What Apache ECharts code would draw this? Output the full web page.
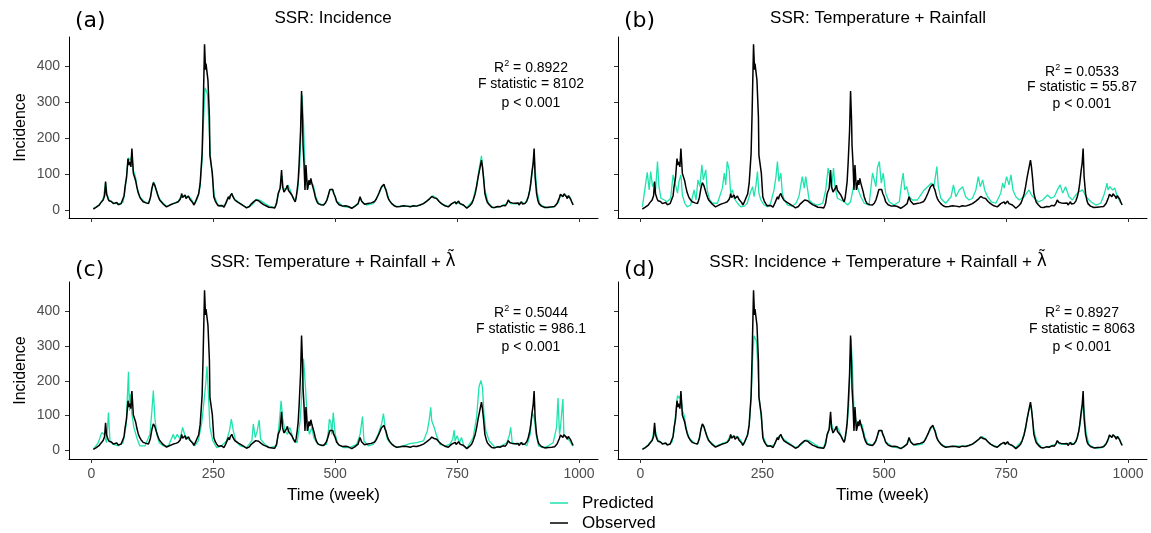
<!DOCTYPE html>
<html>
<head>
<meta charset="utf-8">
<script src="https://cdn.jsdelivr.net/npm/echarts@6/dist/echarts.min.js"></script>
<style>
  html, body { margin: 0; padding: 0; background: #fff; }
  #main { width: 1151px; height: 533px; }
</style>
</head>
<body>
<div id="main"></div>
<script>
// x ticks / y ticks
var weekTicks = [0, 250, 500, 750, 1000];
var incTicks = [0, 100, 200, 300, 400];

// observed incidence [week, value] - same in all panels
var observed = [[4,3],[7,5],[10,8],[13,12],[16,14],[19,20],[22,24],[24,28],[27,40],[29,79],[31,45],[34,32],[36,26],[38,22],[41,24],[45,18],[48,22],[52,21],[55,15],[58,16],[61,18],[65,20],[67,40],[69,65],[72,90],[75,143],[77,125],[79,134],[81,120],[83,171],[86,102],[89,106],[91,80],[93,65],[96,48],[99,37],[102,30],[106,23],[109,26],[112,20],[115,22],[117,18],[119,26],[121,35],[124,60],[127,76],[130,69],[133,55],[136,42],[138,34],[140,28],[143,24],[147,17],[150,12],[154,9],[157,13],[161,14],[164,11],[168,18],[171,15],[173,20],[176,18],[178,23],[180,28],[182,30],[184,38],[185,46],[187,35],[188,38],[190,37],[192,42],[194,32],[197,36],[199,39],[202,30],[205,28],[208,20],[210,14],[213,22],[216,32],[220,45],[223,74],[227,157],[229,268],[232,461],[234,390],[235,407],[237,412],[239,361],[242,259],[243,153],[245,157],[248,102],[251,37],[254,25],[257,18],[260,12],[264,9],[267,13],[270,12],[272,8],[274,14],[276,20],[278,25],[281,37],[283,30],[285,40],[288,46],[290,38],[291,35],[294,28],[297,30],[300,22],[303,24],[305,18],[308,15],[312,12],[315,8],[318,6],[321,11],[324,10],[327,16],[329,14],[332,22],[334,20],[337,28],[339,32],[341,24],[343,26],[346,28],[348,20],[351,22],[353,15],[356,18],[358,12],[361,12],[364,8],[366,9],[368,5],[371,7],[373,10],[376,6],[378,12],[380,20],[383,46],[387,60],[390,111],[392,65],[395,50],[397,46],[400,62],[402,69],[404,55],[406,60],[408,50],[411,42],[413,36],[415,30],[418,23],[420,35],[422,56],[424,80],[426,130],[429,222],[431,331],[433,250],[434,180],[436,130],[438,56],[440,125],[443,56],[445,70],[446,83],[448,70],[450,88],[452,75],[454,74],[457,50],[459,37],[462,25],[465,18],[467,22],[470,15],[473,12],[476,14],[478,18],[480,20],[483,28],[486,42],[489,57],[491,52],[493,60],[495,57],[497,46],[500,37],[503,23],[506,20],[508,15],[510,17],[512,12],[515,11],[517,9],[521,12],[524,8],[527,10],[530,6],[534,5],[537,8],[540,10],[543,14],[547,18],[549,28],[551,37],[554,25],[556,20],[558,22],[560,16],[564,14],[567,18],[570,15],[574,20],[578,18],[581,24],[584,30],[588,42],[590,48],[592,55],[595,65],[597,60],[600,72],[602,62],[604,56],[607,40],[609,32],[612,25],[614,21],[616,18],[619,14],[621,12],[624,13],[626,9],[630,7],[633,10],[636,12],[640,12],[643,9],[647,11],[650,13],[654,9],[657,8],[660,12],[663,13],[667,11],[670,10],[674,14],[677,15],[681,18],[684,20],[688,25],[691,28],[694,32],[698,38],[701,40],[703,34],[705,36],[708,32],[710,27],[713,24],[715,20],[718,18],[722,15],[725,12],[728,10],[732,9],[734,12],[736,14],[739,18],[741,22],[743,15],[746,23],[748,17],[750,20],[753,25],[756,18],[758,21],[760,20],[763,14],[765,12],[767,9],[770,5],[773,8],[776,12],[780,18],[783,28],[787,45],[790,65],[793,90],[796,111],[798,125],[800,139],[802,120],[804,93],[807,46],[810,30],[812,22],[814,18],[816,15],[819,10],[821,8],[824,5],[827,7],[830,8],[833,10],[835,6],[838,9],[841,11],[844,13],[846,15],[849,12],[852,18],[855,28],[858,22],[860,18],[863,20],[866,15],[869,19],[872,17],[875,20],[877,14],[880,18],[882,23],[884,17],[886,20],[889,18],[891,22],[893,25],[896,37],[899,55],[901,74],[904,111],[906,130],[908,171],[910,93],[913,46],[916,25],[918,18],[920,14],[923,11],[927,8],[930,7],[934,5],[937,8],[940,6],[944,9],[947,7],[950,10],[952,12],[955,18],[958,23],[960,35],[962,44],[965,40],[967,37],[969,45],[971,46],[974,38],[976,32],[978,40],[980,42],[983,30],[985,23],[988,14]];

// (a) SSR: Incidence
var predA = [[4,4],[10,9],[16,15],[24,30],[29,75],[32,45],[36,28],[45,19],[58,17],[65,22],[69,55],[73,110],[76,145],[79,138],[83,150],[86,110],[90,95],[94,60],[100,35],[110,22],[117,18],[122,40],[125,65],[128,78],[131,65],[136,45],[141,28],[154,10],[168,19],[178,24],[185,42],[190,38],[199,38],[205,30],[211,15],[217,30],[223,65],[227,140],[230,250],[233,340],[236,330],[238,320],[241,240],[244,150],[248,95],[252,40],[258,18],[264,10],[274,15],[281,35],[288,45],[294,30],[305,19],[318,7],[329,14],[339,30],[346,27],[356,18],[366,10],[376,7],[383,40],[388,70],[391,95],[394,60],[400,58],[403,70],[407,58],[412,40],[418,25],[423,55],[427,120],[430,220],[432,320],[435,240],[438,120],[441,90],[444,60],[447,80],[451,85],[455,70],[460,38],[466,19],[476,14],[483,27],[489,55],[494,58],[498,45],[503,25],[517,10],[534,6],[547,18],[551,33],[556,21],[564,14],[578,18],[588,40],[595,62],[600,70],[605,55],[610,30],[616,18],[626,10],[647,11],[667,11],[681,18],[694,32],[701,40],[708,32],[718,18],[732,10],[739,17],[746,22],[756,18],[763,13],[770,7],[783,28],[790,70],[796,120],[800,151],[803,110],[807,55],[814,20],[824,6],[841,11],[852,18],[855,27],[860,18],[872,17],[882,22],[889,18],[896,35],[901,70],[905,115],[908,155],[911,100],[914,50],[920,15],[934,6],[947,8],[958,22],[962,42],[967,38],[971,45],[976,33],[980,40],[985,24],[988,15]];

// (b) SSR: Temperature + Rainfall
var predB = [[4,9],[14,105],[18,56],[21,107],[25,65],[28,75],[31,56],[35,135],[38,65],[42,33],[49,28],[55,23],[62,33],[67,98],[71,75],[76,47],[79,79],[83,98],[86,42],[91,19],[96,9],[103,14],[110,56],[114,28],[118,84],[122,65],[126,126],[129,84],[134,112],[137,56],[142,28],[148,19],[158,19],[168,61],[172,103],[175,70],[178,135],[182,112],[185,47],[189,56],[192,33],[199,19],[206,9],[213,11],[219,19],[226,51],[230,65],[233,37],[237,70],[240,107],[243,47],[247,28],[254,14],[261,9],[267,19],[274,56],[278,93],[281,135],[284,79],[288,103],[291,47],[295,28],[302,14],[312,11],[319,19],[325,37],[329,70],[332,93],[336,61],[339,93],[343,56],[346,28],[353,19],[363,14],[374,19],[380,56],[385,117],[388,121],[392,61],[396,117],[399,65],[404,33],[411,28],[418,23],[425,14],[431,23],[437,65],[442,75],[447,56],[452,37],[459,19],[469,14],[476,103],[479,107],[483,65],[486,117],[490,135],[494,75],[498,103],[500,107],[503,47],[510,23],[520,14],[531,23],[536,79],[539,103],[542,56],[546,65],[551,37],[558,28],[568,28],[575,42],[582,56],[589,65],[597,75],[602,65],[608,121],[611,65],[616,33],[626,19],[637,37],[642,70],[647,37],[654,56],[661,65],[667,37],[674,28],[681,33],[688,56],[693,93],[697,65],[702,84],[706,56],[712,37],[720,23],[729,19],[739,47],[743,75],[746,61],[751,93],[756,70],[760,98],[764,56],[770,37],[777,28],[787,37],[792,47],[797,56],[802,42],[808,33],[816,23],[825,28],[835,42],[842,33],[849,37],[855,56],[861,70],[866,47],[872,65],[879,37],[886,28],[893,42],[900,51],[907,56],[914,37],[924,23],[934,14],[944,19],[952,47],[957,75],[959,56],[963,65],[968,56],[973,61],[977,42],[982,28],[985,19]];

// (c) SSR: Temperature + Rainfall + lambda
var predC = [[4,3],[14,22],[21,51],[26,46],[31,22],[35,109],[38,27],[45,17],[55,13],[65,22],[71,71],[76,226],[78,114],[80,163],[83,105],[87,66],[93,37],[99,13],[110,13],[120,46],[124,114],[127,172],[130,95],[134,46],[139,22],[147,13],[158,13],[168,46],[171,32],[176,46],[182,32],[187,66],[192,42],[199,32],[208,22],[212,13],[219,27],[226,76],[231,143],[235,201],[237,242],[240,163],[243,66],[249,27],[257,8],[267,13],[277,27],[283,56],[287,90],[291,56],[296,27],[305,13],[318,8],[329,27],[332,76],[336,37],[340,56],[344,87],[347,32],[356,17],[366,8],[380,13],[385,76],[389,143],[392,95],[397,56],[402,46],[407,66],[414,32],[422,22],[428,85],[432,172],[435,264],[439,182],[443,85],[447,46],[452,66],[456,37],[462,22],[472,13],[482,17],[486,56],[488,90],[491,80],[493,46],[496,109],[500,46],[506,17],[517,8],[530,8],[544,17],[551,46],[556,97],[559,27],[568,13],[578,17],[588,46],[595,76],[599,106],[603,56],[607,32],[612,22],[626,8],[640,13],[653,19],[667,22],[681,27],[689,56],[693,90],[696,124],[698,85],[703,66],[708,42],[715,17],[725,13],[735,17],[741,32],[744,58],[746,27],[750,42],[755,22],[759,37],[764,13],[770,6],[783,37],[790,95],[795,184],[799,201],[802,182],[805,105],[809,56],[816,27],[828,8],[841,13],[852,22],[857,42],[860,66],[863,22],[872,17],[882,22],[893,13],[900,46],[904,109],[908,95],[912,46],[917,13],[927,8],[937,13],[947,22],[954,66],[957,151],[960,46],[962,66],[967,148],[969,46],[973,37],[978,32],[983,22],[987,13]];

// (d) SSR: Incidence + Temperature + Rainfall + lambda
var predD = [[4,4],[10,8],[16,16],[24,30],[29,70],[32,48],[36,30],[45,20],[58,17],[65,24],[69,58],[73,118],[76,158],[79,150],[83,160],[86,115],[90,100],[94,62],[100,36],[110,21],[117,18],[122,42],[125,66],[128,74],[131,66],[136,44],[141,28],[154,11],[168,20],[178,25],[185,44],[190,38],[199,40],[205,30],[211,16],[217,32],[223,68],[227,150],[230,260],[233,330],[236,325],[238,315],[241,235],[244,145],[248,90],[252,38],[258,18],[264,11],[274,16],[281,36],[288,44],[294,32],[305,20],[318,8],[329,15],[339,30],[346,28],[356,19],[366,10],[376,8],[383,42],[388,66],[391,85],[394,62],[400,60],[403,70],[407,58],[412,40],[418,24],[423,58],[427,125],[430,230],[432,322],[435,235],[438,115],[441,95],[444,62],[447,82],[451,86],[455,72],[460,40],[466,20],[476,15],[483,28],[489,54],[494,58],[498,46],[503,25],[517,10],[534,6],[547,18],[551,34],[556,22],[564,14],[578,18],[588,42],[595,60],[600,70],[605,55],[610,30],[616,19],[626,10],[647,12],[667,12],[681,18],[694,32],[701,40],[708,32],[718,18],[732,10],[739,17],[746,22],[756,18],[763,13],[770,8],[783,28],[790,65],[796,112],[800,130],[803,108],[807,56],[814,22],[824,7],[841,12],[852,18],[855,26],[860,18],[872,17],[882,22],[889,18],[896,36],[901,68],[905,110],[908,135],[911,100],[914,52],[920,16],[934,6],[947,8],[958,24],[962,42],[967,38],[971,44],[976,34],[980,40],[985,24],[988,15]];

var panelTitles = ['SSR: Incidence', 'SSR: Temperature + Rainfall',
	'SSR: Temperature + Rainfall + {lam|\u03BB\u0303}', 'SSR: Incidence + Temperature + Rainfall + {lam|\u03BB\u0303}'];
var panelTags = ['(a)', '(b)', '(c)', '(d)'];
var r2Vals = ['0.8922', '0.0533', '0.5044', '0.8927'];
var fVals = ['8102', '55.87', '986.1', '8063'];
var preds = [predA, predB, predC, predD];
var legendNames = ['Predicted', 'Observed'];

var TEAL = '#1fe3ad';
var FONT = '"Liberation Sans", Arial, sans-serif';

// panel boxes (pixels)
var boxes = [
	{left: 69, top: 37, width: 529, height: 181, ymin: -22, ymax: 481},
	{left: 618, top: 37, width: 529, height: 181, ymin: -22, ymax: 481},
	{left: 69, top: 282, width: 529, height: 177, ymin: -25, ymax: 485},
	{left: 618, top: 282, width: 529, height: 177, ymin: -25, ymax: 485}
];
var titleX = [333, 878, 333, 878];
var titleY = [18, 18, 262, 262];
var statX = [531, 1082, 531, 1082];
var statY = [[68, 84, 103], [72, 87, 104], [313, 329, 347], [313, 329, 347]];

var grids = [], xAxes = [], yAxes = [], series = [], graphics = [];

function plainNum(v) { return String(v); }

for (var i = 0; i < 4; i++) {
	var b = boxes[i];
	var isLeft = (i % 2 == 0);
	var isBottom = (i >= 2);
	grids.push({left: b.left, top: b.top, width: b.width, height: b.height});
	xAxes.push({
		gridIndex: i,
		type: 'value',
		min: -46,
		max: 1039,
		splitLine: {show: false},
		axisLine: {show: true, onZero: false, lineStyle: {color: '#000', width: 1}},
		axisTick: {show: true, length: 4, customValues: weekTicks, lineStyle: {color: '#333'}},
		axisLabel: {show: isBottom, customValues: weekTicks, formatter: plainNum, margin: 8,
			color: '#4d4d4d', fontSize: 14, fontFamily: FONT},
		name: isBottom ? 'Time (week)' : '',
		nameLocation: 'middle',
		nameGap: 28,
		nameTextStyle: {color: '#000', fontSize: 17, fontFamily: FONT}
	});
	yAxes.push({
		gridIndex: i,
		type: 'value',
		min: b.ymin,
		max: b.ymax,
		splitLine: {show: false},
		axisLine: {show: true, onZero: false, lineStyle: {color: '#000', width: 1}},
		axisTick: {show: true, length: 4, customValues: incTicks, lineStyle: {color: '#333'}},
		axisLabel: {show: isLeft, customValues: incTicks, formatter: plainNum, margin: 9,
			color: '#4d4d4d', fontSize: 14, fontFamily: FONT},
		name: isLeft ? 'Incidence' : '',
		nameLocation: 'middle',
		nameGap: 40,
		nameTextStyle: {color: '#000', fontSize: 16, fontFamily: FONT}
	});
	series.push({
		name: 'Predicted',
		type: 'line',
		xAxisIndex: i,
		yAxisIndex: i,
		data: preds[i],
		showSymbol: false,
		lineStyle: {color: TEAL, width: 1.3},
		itemStyle: {color: TEAL},
		z: 2
	});
	series.push({
		name: 'Observed',
		type: 'line',
		xAxisIndex: i,
		yAxisIndex: i,
		data: observed,
		showSymbol: false,
		lineStyle: {color: '#000', width: 1.5},
		itemStyle: {color: '#000'},
		z: 3
	});

	// title + tag
	graphics.push({type: 'text', x: titleX[i], y: titleY[i],
		style: {text: panelTitles[i], font: '17px ' + FONT, fill: '#000',
			align: 'center', verticalAlign: 'middle',
			rich: {lam: {fontFamily: '"DejaVu Sans", sans-serif', fontSize: 17}}}});
	graphics.push({type: 'text', x: b.left + 6, y: titleY[i] + 3 + (isBottom ? 5 : 0),
		style: {text: panelTags[i], font: '22px "DejaVu Sans", sans-serif', fill: '#000',
			align: 'left', verticalAlign: 'middle'}});
	// stats
	graphics.push({type: 'text', x: statX[i], y: statY[i][0],
		style: {text: 'R{sup|2} = ' + r2Vals[i], font: '14px ' + FONT, fill: '#000',
			align: 'center', verticalAlign: 'middle',
			rich: {sup: {fontSize: 9, fontFamily: FONT, verticalAlign: 'top', padding: [0, 0, 8, 0]}}}});
	graphics.push({type: 'text', x: statX[i], y: statY[i][1],
		style: {text: 'F statistic = ' + fVals[i], font: '14px ' + FONT, fill: '#000',
			align: 'center', verticalAlign: 'middle'}});
	graphics.push({type: 'text', x: statX[i], y: statY[i][2],
		style: {text: 'p < 0.001', font: '14px ' + FONT, fill: '#000',
			align: 'center', verticalAlign: 'middle'}});
}

// legend drawn by hand (two keys stacked)
var legendColors = [TEAL, '#000'];
for (var k = 0; k < 2; k++) {
	var ly = 503 + k * 20;
	graphics.push({type: 'line', shape: {x1: 550, y1: ly, x2: 568, y2: ly},
		style: {stroke: legendColors[k], lineWidth: 1.5}});
	graphics.push({type: 'text', x: 582, y: ly,
		style: {text: legendNames[k], font: '17px ' + FONT, fill: '#000',
			align: 'left', verticalAlign: 'middle'}});
}

var chart = echarts.init(document.getElementById('main'));
chart.setOption({
	animation: false,
	backgroundColor: '#fff',
	grid: grids,
	xAxis: xAxes,
	yAxis: yAxes,
	series: series,
	graphic: graphics
});
</script>
</body>
</html>
